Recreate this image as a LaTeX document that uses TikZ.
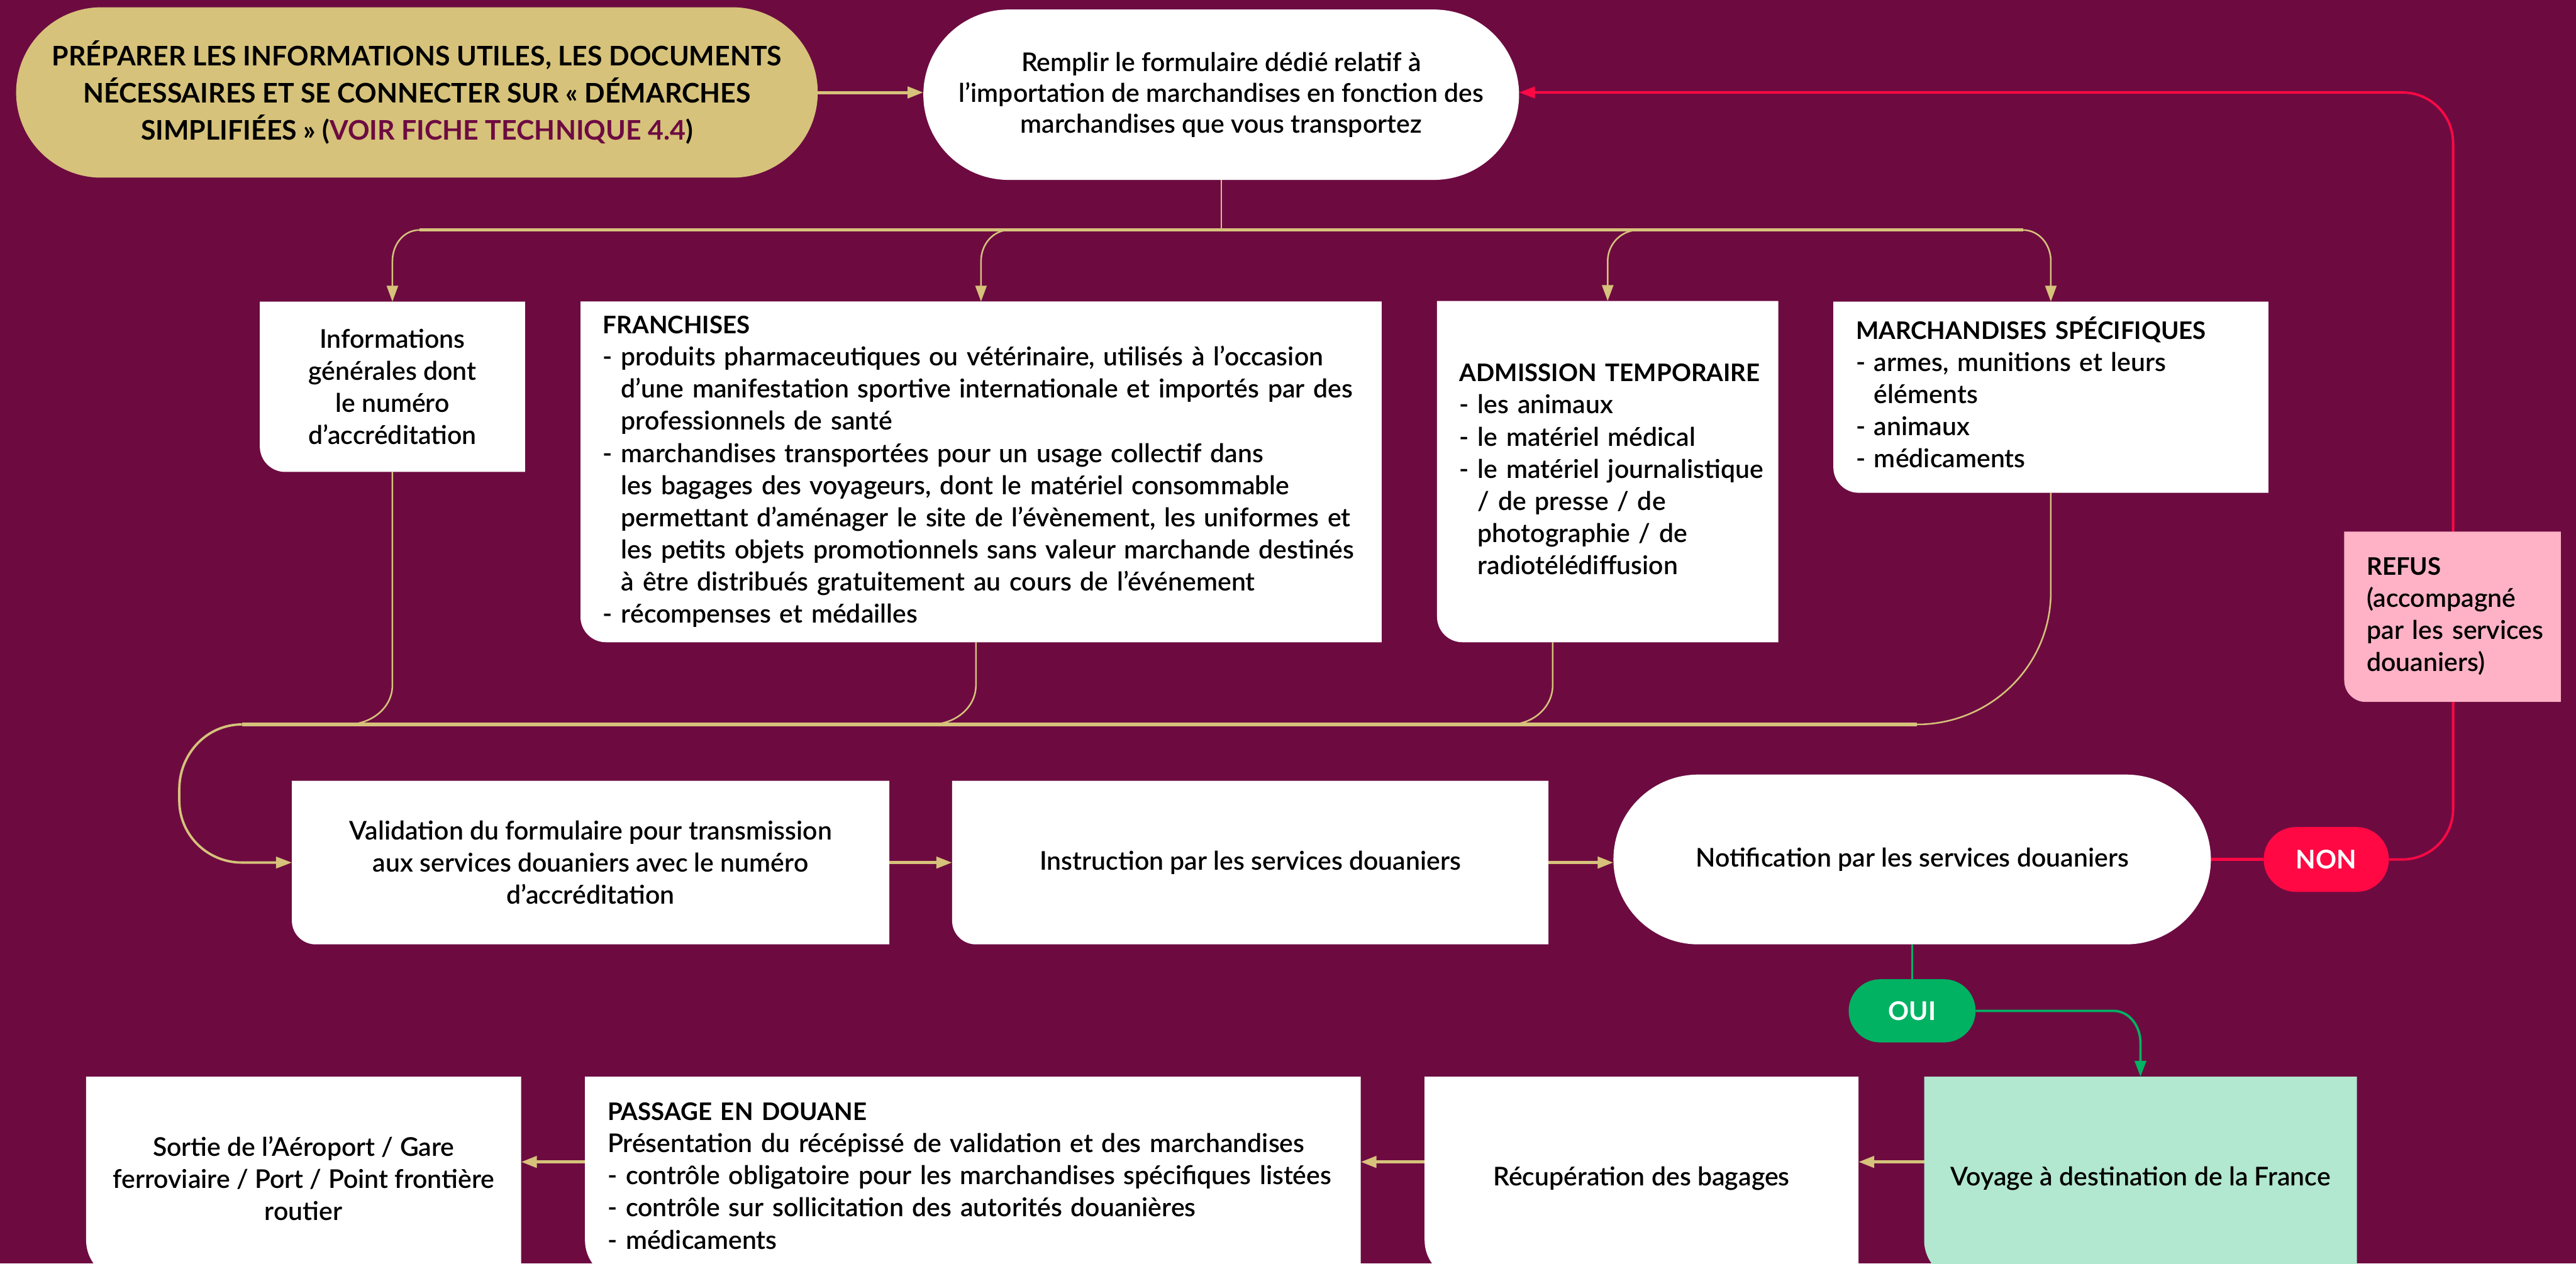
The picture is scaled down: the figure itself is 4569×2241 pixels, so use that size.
\documentclass[tikz,border=0pt]{standalone}
\usepackage{fontspec}
\setmainfont{Lato}[UprightFont=* Semibold, BoldFont=* Bold]
\usetikzlibrary{arrows.meta,shapes.misc}
\definecolor{bgm}{HTML}{6D0B41}
\definecolor{goldc}{HTML}{D6C27A}
\definecolor{redc}{HTML}{FF0844}
\definecolor{greenc}{HTML}{00B262}
\definecolor{mint}{HTML}{B2E8D0}
\definecolor{pinkc}{HTML}{FFB2C6}
\pgfdeclarelayer{bg}\pgfdeclarelayer{lines}\pgfdeclarelayer{boxes}
\pgfsetlayers{bg,lines,boxes,main}
\newcommand\blfill[5]{\begin{pgfonlayer}{boxes}\fill[#2] (#1.north west) -- (#1.north east) -- (#1.south east) -- ([xshift=#3]#1.south west) arc[start angle=#4,end angle=180,radius=#5] -- cycle;\end{pgfonlayer}}
\newcommand\boxtitle[1]{{\fontsize{12.2}{16.2}\selectfont\bfseries #1}}
\tikzset{
 every node/.style={inner sep=0pt, outer sep=0pt},
 bodyfont/.style={font=\fontsize{13}{16.2}\selectfont},
 cbox/.style={bodyfont, align=center, text=black},
 lbox/.style={bodyfont, align=left, inner xsep=0.4cm, text=black},
 pill/.style={rounded rectangle, fill=#1, bodyfont, align=center, text=black},
 hline/.style={line width=1.6pt},
 vline/.style={line width=0.8pt},
 mline/.style={line width=1.2pt},
 >={Triangle[length=0.28cm,width=0.2cm]},
}
\begin{document}
\begin{tikzpicture}[x=0.01cm,y=-0.01cm]
\useasboundingbox (0,0) rectangle (4569,2241);
\begin{pgfonlayer}{bg}\fill[bgm] (0,0) rectangle (4569,2241);\end{pgfonlayer}

% top row
\node[pill=goldc, font=\fontsize{13.6}{18.7}\selectfont\bfseries, minimum width=14.21cm, minimum height=3.02cm] (prep) at (739.5,164)
 {PRÉPARER LES INFORMATIONS UTILES, LES DOCUMENTS\\NÉCESSAIRES ET SE CONNECTER SUR « DÉMARCHES\\SIMPLIFIÉES » (\textcolor{bgm}{VOIR FICHE TECHNIQUE 4.4})};
\node[pill=white, font=\fontsize{13}{15.6}\selectfont, minimum width=10.56cm, minimum height=3.02cm] (rempl) at (2166,168)
 {Remplir le formulaire dédié relatif à\\l’importation de marchandises en fonction des\\marchandises que vous transportez};

% second row
\node[cbox, minimum width=4.7cm, minimum height=3.02cm] (info) at (696,686)
 {Informations\\générales dont\\le numéro\\d’accréditation};
\blfill{info}{white}{0.45cm}{270}{0.45cm}
\node[lbox, minimum width=14.2cm, minimum height=6.04cm, text width=13.4cm] (franch) at (1740,837)
 {\begin{tabular}{@{}l@{}}
 \boxtitle{FRANCHISES}\\
 - produits pharmaceutiques ou vétérinaire, utilisés à l’occasion\\
 \hphantom{-\ }d’une manifestation sportive internationale et importés par des\\
 \hphantom{-\ }professionnels de santé\\
 - marchandises transportées pour un usage collectif dans\\
 \hphantom{-\ }les bagages des voyageurs, dont le matériel consommable\\
 \hphantom{-\ }permettant d’aménager le site de l’évènement, les uniformes et\\
 \hphantom{-\ }les petits objets promotionnels sans valeur marchande destinés\\
 \hphantom{-\ }à être distribués gratuitement au cours de l’événement\\
 - récompenses et médailles
 \end{tabular}};
\blfill{franch}{white}{0.45cm}{270}{0.45cm}
\node[lbox, minimum width=6.05cm, minimum height=6.05cm, text width=5.25cm] (adm) at (2851.5,836.5)
 {\begin{tabular}{@{}l@{}}
 \boxtitle{ADMISSION TEMPORAIRE}\\
 - les animaux\\
 - le matériel médical\\
 - le matériel journalistique\\
 \hphantom{-\ }/ de presse / de\\
 \hphantom{-\ }photographie / de\\
 \hphantom{-\ }radiotélédiffusion
 \end{tabular}};
\blfill{adm}{white}{0.45cm}{270}{0.45cm}
\node[lbox, minimum width=7.71cm, minimum height=3.39cm, text width=6.91cm] (march) at (3637.5,704.5)
 {\begin{tabular}{@{}l@{}}
 \boxtitle{MARCHANDISES SPÉCIFIQUES}\\
 - armes, munitions et leurs\\
 \hphantom{-\ }éléments\\
 - animaux\\
 - médicaments
 \end{tabular}};
\blfill{march}{white}{0.45cm}{270}{0.45cm}
\node[lbox, minimum width=3.84cm, minimum height=3.02cm, text width=3.04cm] (refus) at (4350,1094)
 {\begin{tabular}{@{}l@{}}
 \boxtitle{REFUS}\\
 (accompagné\\
 par les services\\
 douaniers)
 \end{tabular}};
\blfill{refus}{pinkc}{0.38cm}{270}{0.38cm}

% third row
\node[cbox, minimum width=10.59cm, minimum height=2.9cm] (valid) at (1047.5,1530)
 {Validation du formulaire pour transmission\\aux services douaniers avec le numéro\\d’accréditation};
\blfill{valid}{white}{0.42cm}{270}{0.42cm}
\node[cbox, minimum width=10.57cm, minimum height=2.9cm] (instr) at (2217.5,1530)
 {Instruction par les services douaniers};
\blfill{instr}{white}{0.42cm}{270}{0.42cm}
\node[pill=white, minimum width=10.59cm, minimum height=3.01cm] (notif) at (3391.5,1524.5)
 {Notification par les services douaniers};
\node[pill=redc, font=\fontsize{13}{16}\selectfont\bfseries, text=white, minimum width=2.22cm, minimum height=1.15cm] (non) at (4126,1524.5) {NON};
\node[pill=greenc, font=\fontsize{13}{16}\selectfont\bfseries, text=white, minimum width=2.25cm, minimum height=1.12cm] (oui) at (3391.5,1793) {OUI};

% bottom row
\node[cbox, minimum width=7.71cm, minimum height=3.6cm] (sortie) at (538.5,2090)
 {Sortie de l’Aéroport / Gare\\ferroviaire / Port / Point frontière\\routier};
\blfill{sortie}{white}{0.7cm}{270}{0.7cm}
\node[lbox, minimum width=13.75cm, minimum height=3.6cm, text width=12.95cm] (passage) at (1725.5,2090)
 {\begin{tabular}{@{}l@{}}
 \boxtitle{PASSAGE EN DOUANE}\\
 Présentation du récépissé de validation et des marchandises\\
 - contrôle obligatoire pour les marchandises spécifiques listées\\
 - contrôle sur sollicitation des autorités douanières\\
 - médicaments
 \end{tabular}};
\blfill{passage}{white}{0.7cm}{270}{0.7cm}
\node[cbox, minimum width=7.69cm, minimum height=3.6cm] (recup) at (2911.5,2090)
 {Récupération des bagages};
\blfill{recup}{white}{0.7cm}{270}{0.7cm}
\node[cbox, minimum width=7.67cm, minimum height=3.6cm] (voyage) at (3796.5,2090)
 {Voyage à destination de la France};
\blfill{voyage}{mint}{0.7cm}{270}{0.7cm}

% connectors
\begin{pgfonlayer}{lines}
\draw[goldc,hline,->] (prep.east) -- (prep.east -| rempl.west);
\coordinate (busL) at (744,408);
\coordinate (busR) at (3588,408);
\draw[goldc,vline] (rempl.south) -- (rempl.south |- busL);
\draw[goldc,hline] (busL) -- (busR);
\draw[goldc,vline,->] (busL) to[out=180,in=90] (696,463) -- (info.north);
\draw[goldc,vline,->] (1790,408) to[out=180,in=90] (1740,463) -- (franch.north);
\draw[goldc,vline,->] (2906,408) to[out=180,in=90] (2851.5,463) -- (adm.north);
\draw[goldc,vline,->] (busR) to[out=0,in=90] (3637.5,463) -- (march.north);
\coordinate (mL) at (429,1285);
\coordinate (mR) at (3400,1285);
\draw[goldc,vline] (info.south) -- (696,1215) to[out=-90,in=0] (616,1285);
\draw[goldc,vline] ([xshift=-0.09cm]franch.south) -- (1731,1215) to[out=-90,in=0] (1651,1285);
\draw[goldc,vline] ([xshift=-0.975cm]adm.south) -- (2754,1215) to[out=-90,in=0] (2678,1285);
\draw[goldc,vline] (march.south) -- (3637.5,1050) to[out=-90,in=0] (mR);
\draw[goldc,hline] (mR) -- (mL);
\draw[goldc,mline,->] (mL) to[out=180,in=90] (318,1400) -- (318,1420) to[out=-90,in=180] (429,1530) -- (valid.west);
\draw[goldc,hline,->] (valid.east) -- (instr.west);
\draw[goldc,hline,->] (instr.east) -- (instr.east -| notif.west);
\draw[redc,hline] (notif.east) -- (non.west);
\draw[redc,mline,->] (non.east) -- (4261,1524.5) to[out=0,in=-90] (4351,1435) -- (4351,254) to[out=90,in=0] (4261,164) -- (4261,164 -| rempl.east);
\draw[greenc,vline] (notif.south) -- (oui.north);
\draw[greenc,mline,->] (oui.east) -- (3748,1793) to[out=0,in=90] (3796.5,1850) -- (voyage.north);
\coordinate (rowB) at (0,2061);
\draw[goldc,hline,->] (voyage.west |- rowB) -- (recup.east |- rowB);
\draw[goldc,hline,->] (recup.west |- rowB) -- (passage.east |- rowB);
\draw[goldc,hline,->] (passage.west |- rowB) -- (sortie.east |- rowB);
\end{pgfonlayer}
\end{tikzpicture}
\end{document}
